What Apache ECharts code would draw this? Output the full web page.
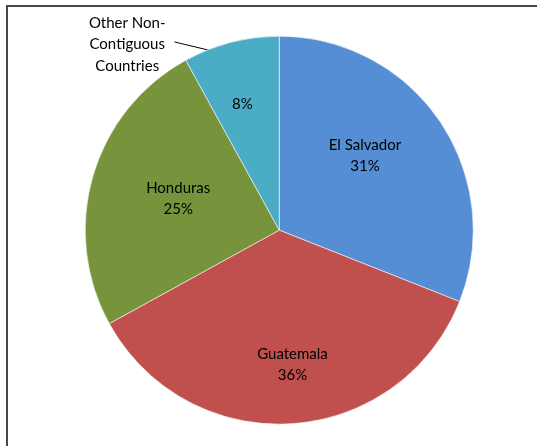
<!DOCTYPE html>
<html>
<head>
<meta charset="utf-8">
<script src="https://cdn.jsdelivr.net/npm/echarts@6/dist/echarts.min.js"></script>
<style>
  html, body { margin: 0; padding: 0; background: #fff; }
  .wrap { position: relative; width: 537px; height: 446px; overflow: hidden; }
  .frame {
    position: absolute; left: 6px; top: 5px; width: 700px; height: 700px;
    border-top: 2px solid #474747; border-left: 2px solid #474747;
  }
  #chart { position: absolute; left: 0; top: 0; width: 537px; height: 446px; }
</style>
</head>
<body>
<div class="wrap">
  <div class="frame"></div>
  <div id="chart"></div>
</div>
<script>
const countries = ["El Salvador", "Guatemala", "Honduras", "Other Non-Contiguous Countries"];
const shares = [31, 36, 25, 8];
const colors = ["#558ed5", "#c0504d", "#77933c", "#4bacc6"];
// label nudges, excel places them by "best fit"
const labelOffsets = [[3, -18], [7, 35], [-5, -4], [-12, -29]];

const chart = echarts.init(document.getElementById("chart"));

const center = ["52%", "51.6%"];
const radius = 194;
const font = "Lato, 'Open Sans', sans-serif";

const option = {
  animation: false,
  series: [
    {
      type: "pie",
      center: center,
      radius: radius,
      startAngle: 90,
      clockwise: true,
      avoidLabelOverlap: false,
      itemStyle: { borderColor: "rgba(255,255,255,0.7)", borderWidth: 0.8 },
      label: {
        position: "inside",
        color: "#000",
        fontFamily: font,
        fontSize: 15,
        lineHeight: 21,
        formatter: (p) => p.dataIndex === 3 ? p.percent + "%" : p.name + "\n" + p.percent + "%"
      },
      labelLine: { show: false },
      emphasis: { disabled: true },
      data: countries.map((c, i) => ({
        name: c,
        value: shares[i],
        itemStyle: { color: colors[i] },
        label: { offset: labelOffsets[i] }
      }))
    },
    {
      // transparent copy just for the outside label of the small slice
      type: "pie",
      center: center,
      radius: radius,
      startAngle: 90,
      clockwise: true,
      silent: true,
      avoidLabelOverlap: false,
      itemStyle: { color: "rgba(0,0,0,0)", borderWidth: 0 },
      label: {
        show: true,
        position: "outside",
        color: "#000",
        fontFamily: font,
        fontSize: 15,
        lineHeight: 21.5,
        formatter: "{a|Other Non-}\n{a|Contiguous}\n{a|Countries}",
        rich: { a: { align: "center", fontFamily: font, fontSize: 15, lineHeight: 21.5, color: "#000" } }
      },
      labelLine: { show: true, length: 10, length2: 40, lineStyle: { color: "#000", width: 1 } },
      labelLayout: function (params) {
        if (params.dataIndex !== 3) return {};
        const r = params.labelRect;
        const p = params.labelLinePoints;
        const dx = -18, dy = 12;
        // excel hooks the leader a bit left of the slice middle
        const start = [p[0][0] - 22, p[0][1] + 8];
        const end = [r.x + r.width + dx + 9, r.y + dy + r.height * 0.46];
        return { dx: dx, dy: dy, labelLinePoints: [start, end, end] };
      },
      emphasis: { disabled: true },
      data: countries.map((c, i) => ({
        name: c,
        value: shares[i],
        label: { show: i === 3 },
        labelLine: { show: i === 3 }
      }))
    }
  ]
};

chart.setOption(option);
</script>
</body>
</html>
